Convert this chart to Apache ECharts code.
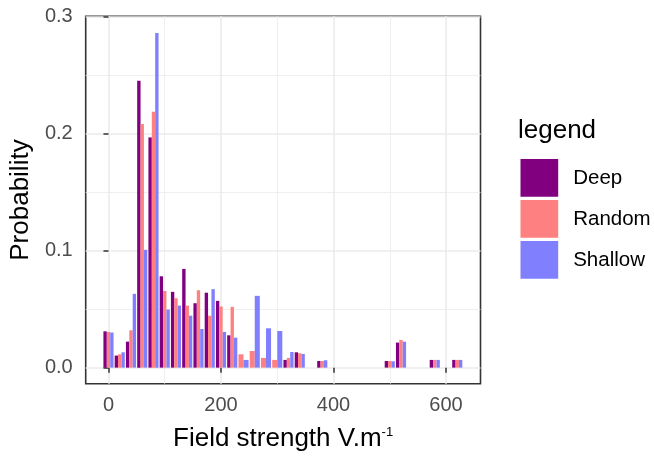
<!DOCTYPE html>
<html>
<head>
<meta charset="utf-8">
<script src="https://cdn.jsdelivr.net/npm/echarts@6/dist/echarts.min.js"></script>
<style>
html,body{margin:0;padding:0;background:#fff;}
#chart{width:654px;height:458px;}
</style>
</head>
<body>
<div id="chart"></div>
<script>
// Bin centres (field strength, V/m) that hold at least one bar
const binCenters = [0,20,40,60,80,100,120,140,160,180,200,220,240,260,280,300,320,340,380,500,520,580,620];
// Probabilities per bin (null = no bar in that bin)
const deep    = [0.031,0.0103,0.0222,0.245,0.1966,0.078,0.0647,0.0843,0.055,0.064,0.057,0.0276,null,null,null,null,0.0066,0.0131,0.0057,0.0057,0.0214,0.0066,0.0066];
const random  = [0.0305,0.0114,0.0319,0.208,0.2185,0.0655,0.0593,0.053,0.0661,0.0443,0.0522,0.0519,0.0114,0.0142,0.0083,0.0066,0.0083,0.0123,0.0057,0.0057,0.0236,0.0066,0.0066];
const shallow = [0.030,0.0131,0.063,0.1006,0.2857,0.0496,0.053,0.0444,0.033,0.067,0.0305,0.0256,0.0066,0.0613,0.0336,0.0313,0.0134,0.0117,0.0063,0.0054,0.0222,0.0066,0.0066];
const seriesNames = ['Deep','Random','Shallow'];
const seriesColors = ['#800080','#FF8080','#8080FF'];
const xTicks = [0,200,400,600];
const xMinorTicks = [100,300,500];
const yTicks = [0,0.1,0.2,0.3];
const yMinorTicks = [0.05,0.15,0.25];

const binWidth = 20, dodgeFrac = 0.9;
const allSeries = [deep, random, shallow];

function buildData(si){
  const out = [];
  binCenters.forEach((x,i)=>{
    const v = allSeries[si][i];
    if (v == null) return;
    let n = 0, k = 0;
    for (let j=0;j<3;j++){
      if (allSeries[j][i] != null){ if (j < si) k++; n++; }
    }
    out.push([x, v, k, n]);
  });
  return out;
}

function renderItem(params, api){
  const x = api.value(0), y = api.value(1), k = api.value(2), n = api.value(3);
  const w = binWidth*dodgeFrac/n;
  const x0 = x - binWidth*dodgeFrac/2 + k*w;
  const p0 = api.coord([x0, 0]);
  const p1 = api.coord([x0 + w, y]);
  return {
    type:'rect',
    shape:{x:p0[0], y:p1[1], width:p1[0]-p0[0], height:p0[1]-p1[1]},
    style:{fill: api.visual('color')}
  };
}

const FONT = 'Liberation Sans, Arial, sans-serif';
const chart = echarts.init(document.getElementById('chart'), null, {renderer:'canvas'});
const gridLineMajor = {show:true, lineStyle:{color:'#EBEBEB', width:1.6}};
const gridLineMinor = {show:true, lineStyle:{color:'#EBEBEB', width:0.8}};

chart.setOption({
  animation:false,
  backgroundColor:'#ffffff',
  title:{
    text:'legend', left:518, top:118, padding:0,
    textStyle:{fontFamily:FONT, fontSize:26, fontWeight:'normal', color:'#000'}
  },
  legend:{
    data:seriesNames, orient:'vertical', left:520.5, top:159, padding:0,
    icon:'rect', itemWidth:37.7, itemHeight:37.7, itemGap:3.3,
    textStyle:{fontFamily:FONT, fontSize:20.5, color:'#000', padding:[0,0,0,10]}
  },
  grid:{left:82, top:16.3, right:173.5, bottom:74.2, show:true, borderColor:'#333333', borderWidth:1.6, backgroundColor:'#fff'},
  xAxis:[{
    type:'value', min:-40.5, max:661.3,
    name:'Field strength V.m{sup|-1}', nameLocation:'middle', nameGap:42,
    nameTextStyle:{fontFamily:FONT, fontSize:26, color:'#000',
      rich:{sup:{fontFamily:FONT, fontSize:13, color:'#000', verticalAlign:'top'}}},
    axisLine:{show:false},
    axisTick:{show:true, length:5, customValues:xTicks, lineStyle:{color:'#333', width:1.5}},
    axisLabel:{customValues:xTicks, margin:12, fontFamily:FONT, fontSize:20, color:'#4D4D4D', formatter:v=>String(v)},
    splitLine:gridLineMajor
  },{
    type:'value', min:-40.5, max:661.3, position:'bottom',
    axisLine:{show:false}, axisLabel:{show:false},
    axisTick:{show:false, customValues:xMinorTicks},
    splitLine:gridLineMinor
  }],
  yAxis:[{
    type:'value', min:-0.0138, max:0.3,
    name:'Probability', nameLocation:'middle', nameGap:47, nameRotate:90,
    nameTextStyle:{fontFamily:FONT, fontSize:26, color:'#000'},
    axisLine:{show:false},
    axisTick:{show:true, length:5, customValues:yTicks, lineStyle:{color:'#333', width:1.5}},
    axisLabel:{customValues:yTicks, margin:13, fontFamily:FONT, fontSize:20, color:'#4D4D4D', formatter:v=>v.toFixed(1)},
    splitLine:gridLineMajor
  },{
    type:'value', min:-0.0138, max:0.3, position:'left',
    axisLine:{show:false}, axisLabel:{show:false},
    axisTick:{show:false, customValues:yMinorTicks},
    splitLine:gridLineMinor
  }],
  series: seriesNames.map((name,si)=>({
    type:'custom', name:name, xAxisIndex:0, yAxisIndex:0,
    itemStyle:{color:seriesColors[si]},
    encode:{x:0, y:1},
    renderItem:renderItem,
    data:buildData(si),
    z:3
  }))
});
</script>
</body>
</html>
